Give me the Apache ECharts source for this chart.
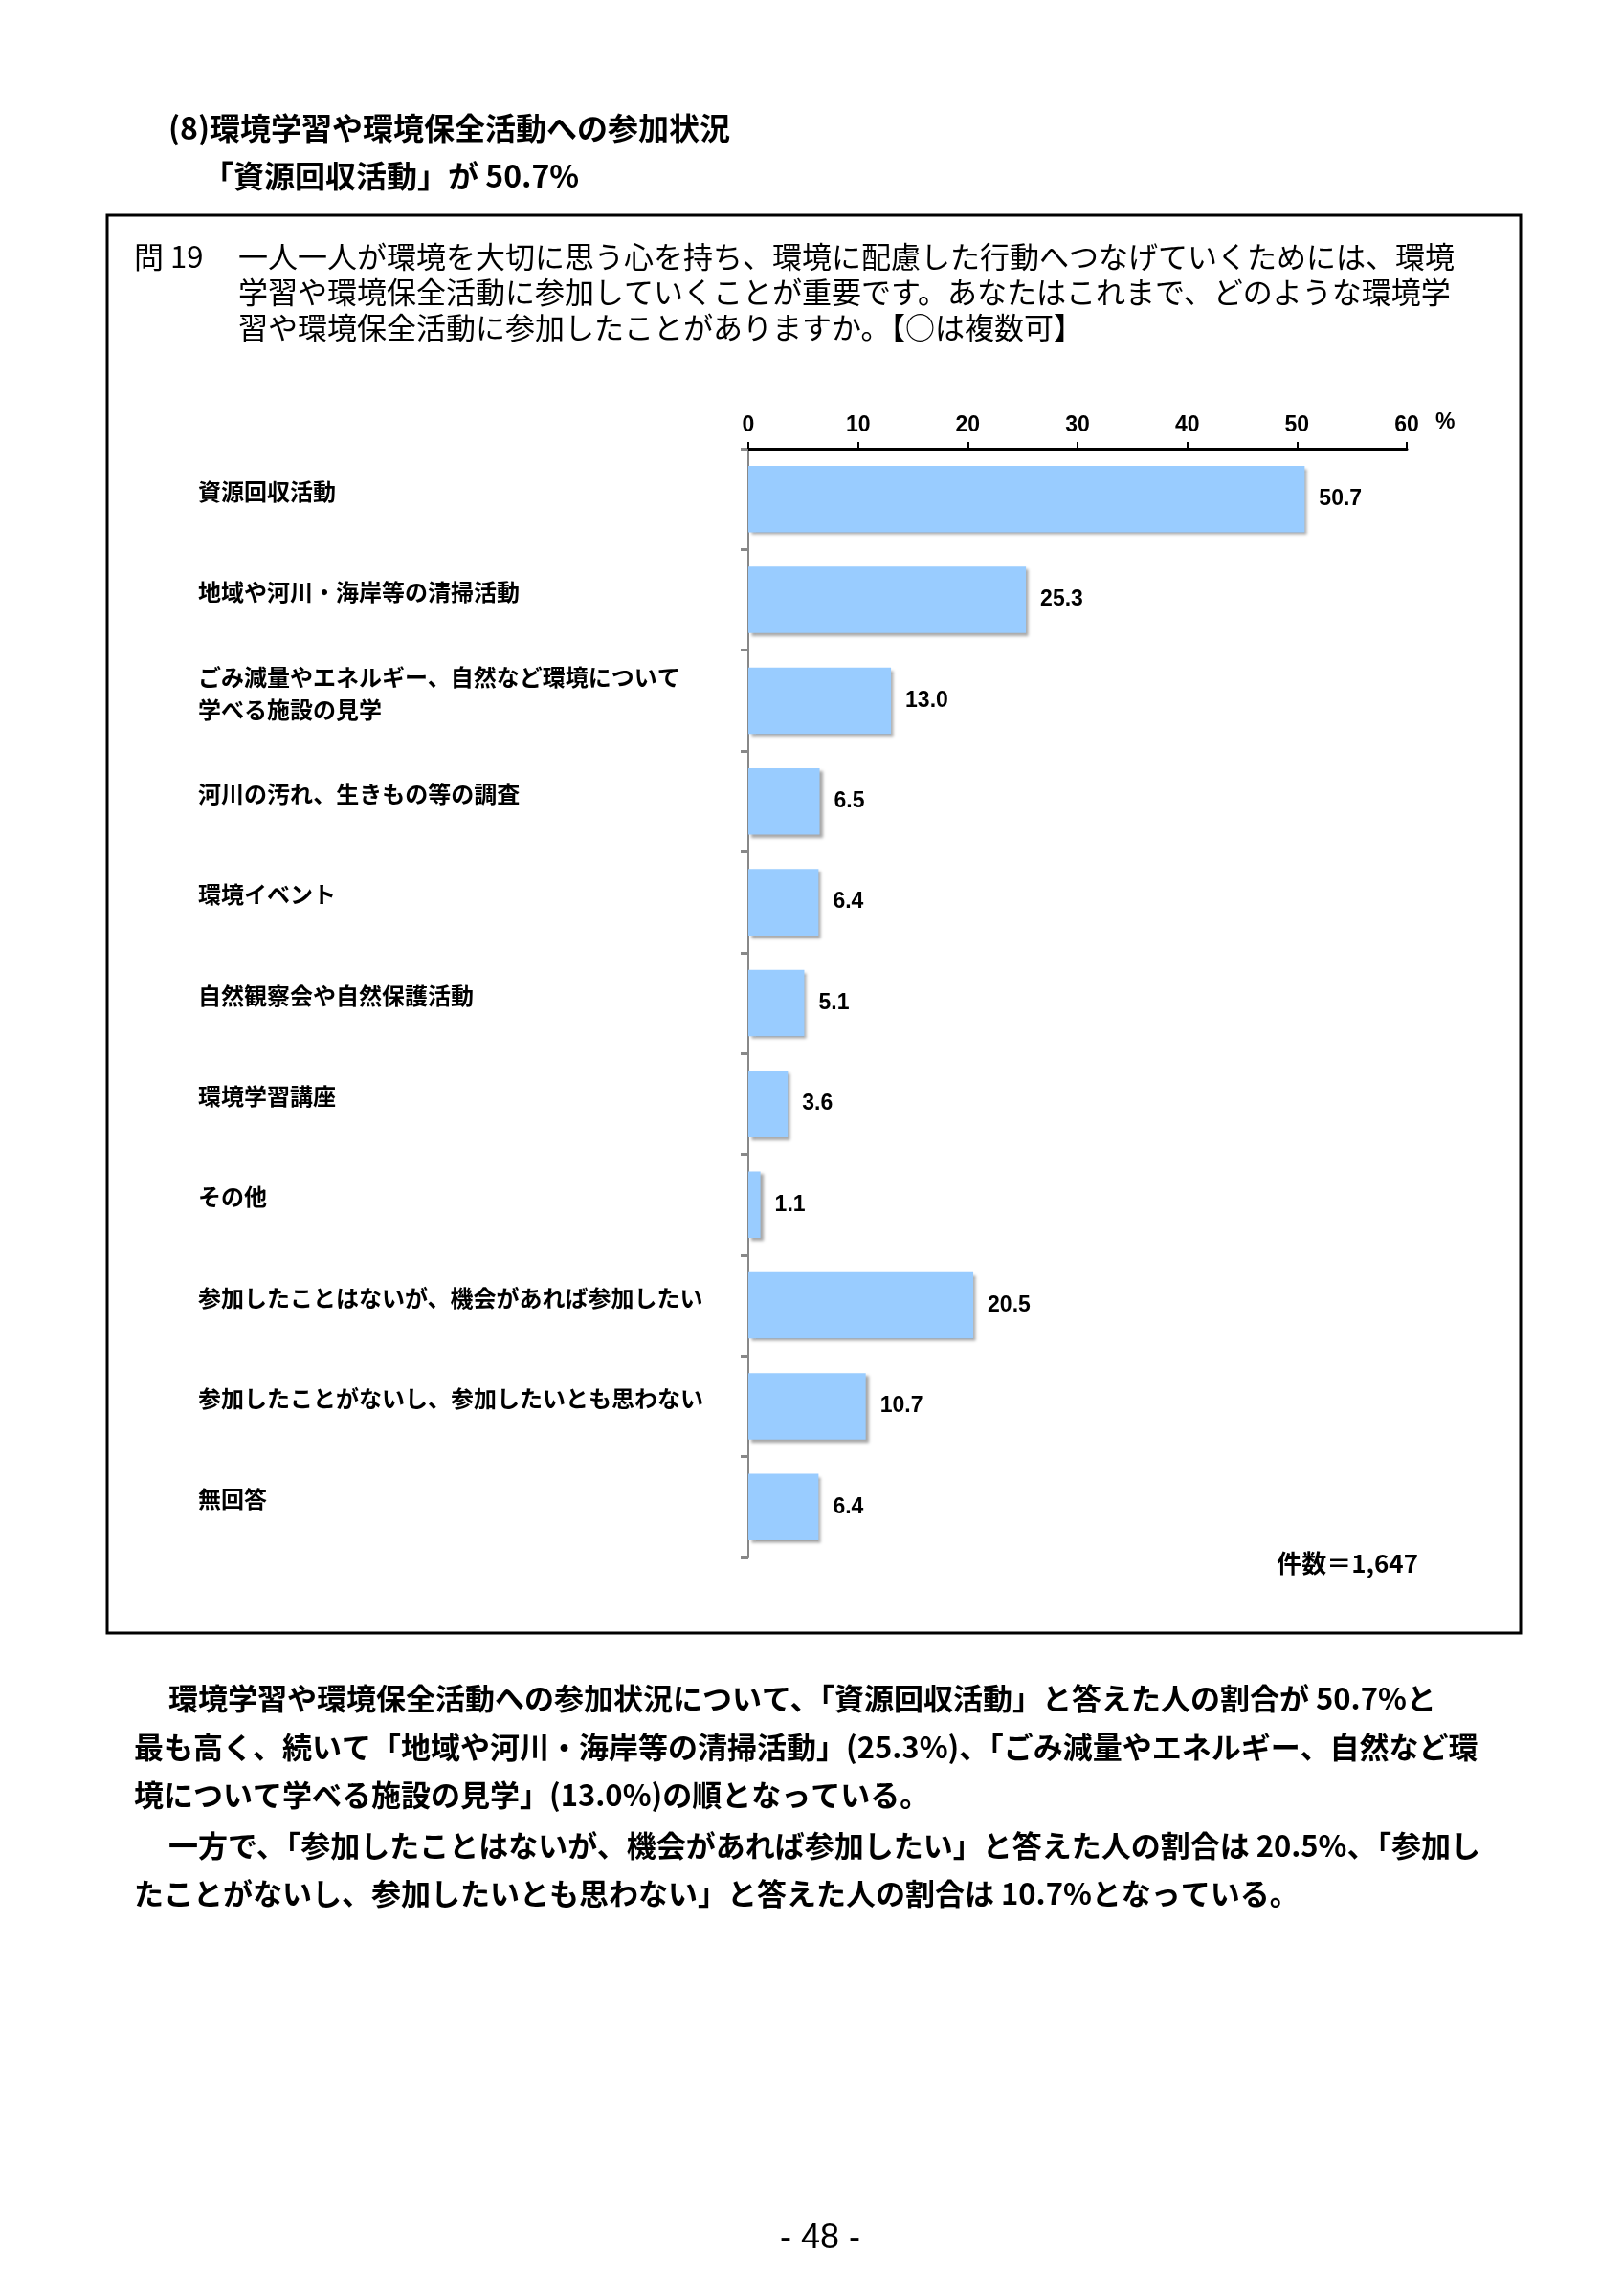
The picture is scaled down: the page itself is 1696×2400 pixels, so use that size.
<!DOCTYPE html>
<html>
<head>
<meta charset="utf-8">
<script src="https://cdn.jsdelivr.net/npm/echarts@6/dist/echarts.min.js"></script>
<style>
html,body{margin:0;padding:0;background:#fff;}
#chart{width:1696px;height:2400px;}
</style>
</head>
<body>
<div id="chart"></div>
<script>
var categories = [
  '資源回収活動',
  '地域や河川・海岸等の清掃活動',
  'ごみ減量やエネルギー、自然など環境について\n学べる施設の見学',
  '河川の汚れ、生きもの等の調査',
  '環境イベント',
  '自然観察会や自然保護活動',
  '環境学習講座',
  'その他',
  '参加したことはないが、機会があれば参加したい',
  '参加したことがないし、参加したいとも思わない',
  '無回答'
];
var values = [50.7, 25.3, 13.0, 6.5, 6.4, 5.1, 3.6, 1.1, 20.5, 10.7, 6.4];
var axisTicks = [0, 10, 20, 30, 40, 50, 60];

var headingLines = ['(8)環境学習や環境保全活動への参加状況', '「資源回収活動」が 50.7%'];
var questionNo = '問 19';
var questionLines = [
  '一人一人が環境を大切に思う心を持ち、環境に配慮した行動へつなげていくためには、環境',
  '学習や環境保全活動に参加していくことが重要です。あなたはこれまで、どのような環境学',
  '習や環境保全活動に参加したことがありますか。【○は複数可】'
];
var countNote = '件数＝1,647';
var bodyLines = [
  '環境学習や環境保全活動への参加状況について、「資源回収活動」と答えた人の割合が 50.7%と',
  '最も高く、続いて「地域や河川・海岸等の清掃活動」(25.3%)、「ごみ減量やエネルギー、自然など環',
  '境について学べる施設の見学」(13.0%)の順となっている。',
  '一方で、「参加したことはないが、機会があれば参加したい」と答えた人の割合は 20.5%、「参加し',
  'たことがないし、参加したいとも思わない」と答えた人の割合は 10.7%となっている。'
];
var pageNo = '- 48 -';

var JP = '"Noto Sans CJK JP", sans-serif';
var LAT = '"Liberation Sans", Arial, sans-serif';
var chart = echarts.init(document.getElementById('chart'), null, {renderer: 'canvas'});

var graphics = [];
function txt(x, y, text, size, weight, align, family) {
  graphics.push({
    type: 'text', x: x, y: y,
    style: {text: text, fontSize: size, fontWeight: weight || 'normal', fill: '#000',
      fontFamily: family || JP, textAlign: align || 'left', textVerticalAlign: 'middle'}
  });
}
graphics.push({type: 'rect', shape: {x: 112, y: 225, width: 1477, height: 1482},
  style: {fill: 'none', stroke: '#000', lineWidth: 3}});
txt(176, 134, headingLines[0], 32, 'bold');
txt(212, 184, headingLines[1], 32, 'bold');
txt(140, 268, questionNo, 31, 'normal');
questionLines.forEach(function (l, i) { txt(249, 268 + i * 37, l, 31, 'normal'); });
txt(1500, 442, '%', 23, 'bold', 'left', LAT);
txt(1482, 1634, countNote, 26, 'bold', 'right');
var bodyY = [1775, 1826, 1876, 1929, 1979];
var bodyX = [176, 140, 140, 176, 140];
bodyLines.forEach(function (l, i) { txt(bodyX[i], bodyY[i], l, 31, 'bold'); });
txt(857, 2340, pageNo, 36, 'normal', 'center', LAT);

chart.setOption({
  backgroundColor: '#fff',
  animation: false,
  grid: {left: 782, right: 226, top: 469, bottom: 772, containLabel: false},
  xAxis: {
    type: 'value', position: 'top', min: axisTicks[0], max: axisTicks[axisTicks.length - 1], interval: 10,
    axisLine: {show: true, lineStyle: {color: '#000', width: 3}},
    axisTick: {show: true, length: 7, lineStyle: {color: '#000', width: 2}},
    axisLabel: {color: '#000', fontSize: 23, fontWeight: 'bold', fontFamily: LAT, margin: 13},
    splitLine: {show: false}
  },
  yAxis: {
    type: 'category', inverse: true, data: categories,
    axisLine: {show: true, lineStyle: {color: '#888', width: 2}},
    axisTick: {show: true, length: 8, lineStyle: {color: '#888', width: 3}},
    axisLabel: {align: 'left', margin: 575, color: '#000', fontSize: 24, fontWeight: 'bold',
      fontFamily: JP, lineHeight: 34,
      formatter: function (v) { return v + '\n{s| }'; },
      rich: {s: {fontSize: 1, lineHeight: 16}}}
  },
  series: [{
    type: 'bar', data: values, barWidth: '66%',
    itemStyle: {color: '#99CCFF', shadowColor: 'rgba(0,0,0,0.35)', shadowBlur: 3, shadowOffsetX: 3, shadowOffsetY: 3},
    label: {show: true, position: 'right', distance: 15, color: '#000', fontSize: 23, fontWeight: 'bold',
      fontFamily: LAT,
      formatter: function (p) { return p.value.toFixed(1); }}
  }],
  graphic: graphics
});
</script>
</body>
</html>
